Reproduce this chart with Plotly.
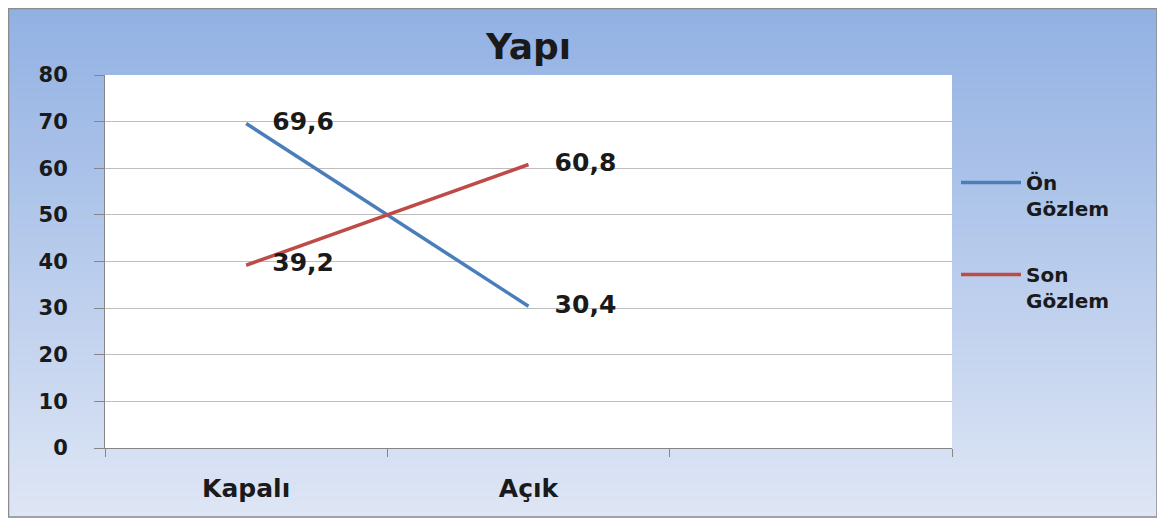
import plotly.graph_objects as go

categories = ["Kapalı", "Açık", " "]
on_gozlem = [69.6, 30.4, None]
son_gozlem = [39.2, 60.8, None]
on_labels = ["69,6", "30,4", ""]
son_labels = ["39,2", "60,8", ""]
y_ticks = [0, 10, 20, 30, 40, 50, 60, 70, 80]

OFF = 8  # page body margin
W, H = 1165 - OFF, 518 - OFF
ML, MT = 105 - OFF, 75 - OFF
PW, PH = 847, 373
MR = W - ML - PW
MB = H - MT - PH

FONT = "DejaVu Sans"
TXT = "#1a1a1a"

def px2x(p):
    # p is a screen pixel
    return (p - OFF - ML) / PW

def px2y(p):
    return (MT + PH - (p - OFF)) / PH

pad = "\u00a0" * 3

fig = go.Figure()
fig.add_trace(go.Scatter(
    x=categories, y=on_gozlem, mode="lines+text", name="Ön<br>Gözlem",
    line=dict(color="#4a7ebb", width=3.5),
    text=[pad + t if t else "" for t in on_labels], textposition="middle right",
    textfont=dict(family=FONT, size=25, color=TXT, weight="bold"),
    legend="legend", connectgaps=False,
))
fig.add_trace(go.Scatter(
    x=categories, y=son_gozlem, mode="lines+text", name="Son<br>Gözlem",
    line=dict(color="#be4b48", width=3.5),
    text=[pad + t if t else "" for t in son_labels], textposition="middle right",
    textfont=dict(family=FONT, size=25, color=TXT, weight="bold"),
    legend="legend2", connectgaps=False,
))

# background gradient
shapes = []
top_c = (146, 177, 227)
bot_c = (222, 230, 245)
n = 60
y_top, y_bot = 8, 518
for i in range(n):
    t = i / (n - 1)
    c = tuple(int(round(top_c[k] + (bot_c[k] - top_c[k]) * t)) for k in range(3))
    p0 = y_top + (y_bot - y_top) * i / n
    p1 = y_top + (y_bot - y_top) * (i + 1) / n + 1
    shapes.append(dict(type="rect", xref="paper", yref="paper", layer="below",
                       x0=px2x(8), x1=px2x(1158), y0=px2y(p1), y1=px2y(p0),
                       line=dict(width=0), fillcolor="rgb(%d,%d,%d)" % c))
shapes.append(dict(type="rect", xref="paper", yref="paper", layer="below",
                   x0=0, x1=1, y0=0, y1=1, line=dict(width=0), fillcolor="white"))
shapes.append(dict(type="rect", xref="paper", yref="paper", layer="above",
                   x0=px2x(8.5), x1=px2x(1157), y0=px2y(517), y1=px2y(8.5),
                   line=dict(width=1.5, color="#8c8c8c"), fillcolor="rgba(0,0,0,0)"))

legend_common = dict(
    font=dict(family=FONT, size=20, color=TXT, weight="bold"),
    bgcolor="rgba(0,0,0,0)", valign="top", itemwidth=60,
    xanchor="left", yanchor="top", tracegroupgap=0,
)

fig.update_layout(
    width=W, height=H,
    margin=dict(l=ML, r=MR, t=MT, b=MB, pad=0),
    paper_bgcolor="white", plot_bgcolor="white",
    title=dict(text="<b>Yapı</b>", x=0.5, xref="paper", xanchor="center",
               y=1 - (46 - OFF) / H, yref="container", yanchor="middle",
               font=dict(family=FONT, size=36, color=TXT)),
    shapes=shapes,
    showlegend=True,
    legend=dict(x=px2x(956), y=px2y(163), **legend_common),
    legend2=dict(x=px2x(956), y=px2y(255), **legend_common),
    xaxis=dict(
        type="category", categoryorder="array", categoryarray=categories,
        range=[-0.5, 2.5], tickson="boundaries", ticks="outside", ticklen=8,
        tickcolor="#868686", showline=True, linecolor="#868686", linewidth=1,
        showgrid=False, zeroline=False, ticklabelstandoff=18,
        tickfont=dict(family=FONT, size=25, color=TXT, weight="bold"),
        fixedrange=True,
    ),
    yaxis=dict(
        range=[0, 80], tickvals=y_ticks, ticks="outside", ticklen=10,
        tickcolor="#868686", showline=True, linecolor="#868686", linewidth=1,
        showgrid=True, gridcolor="#bdbdbd", gridwidth=1, zeroline=False,
        ticklabelstandoff=22,
        tickfont=dict(family=FONT, size=21, color=TXT, weight="bold"),
        fixedrange=True,
    ),
)

fig.write_html("out.html")
